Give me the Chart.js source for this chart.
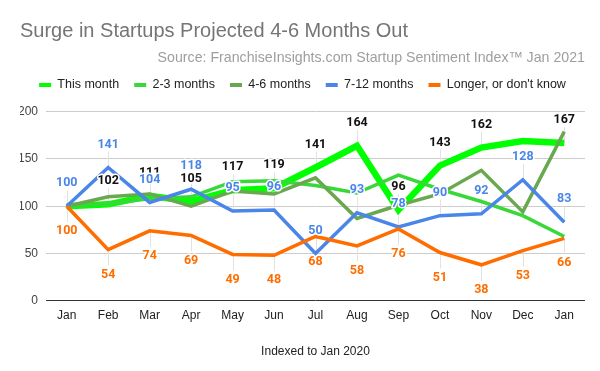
<!DOCTYPE html>
<html>
<head>
<meta charset="utf-8">
<script src="https://cdn.jsdelivr.net/npm/chart.js@4/dist/chart.umd.min.js"></script>
<style>
  html, body { margin: 0; padding: 0; background: #fff; }
  #wrap { width: 600px; height: 371px; }
</style>
</head>
<body>
<div id="wrap"><canvas id="chart"></canvas></div>
<script>
// months Jan 2020 .. Jan 2021
var months = ['Jan', 'Feb', 'Mar', 'Apr', 'May', 'Jun', 'Jul', 'Aug', 'Sep', 'Oct', 'Nov', 'Dec', 'Jan'];

var thisMonth   = [100, 102, 111, 105, 117, 119, 141, 164, 96, 143, 162, 169, 167];
var twoThree    = [100, 103, 108, 110, 126, 127, 122, 114, 133, 118, 105, 90, 68];
var fourSix     = [100, 110, 113, 100, 116, 113, 130, 87, 101, 113, 138, 94, 179];
var sevenTwelve = [100, 141, 104, 118, 95, 96, 50, 93, 78, 90, 92, 128, 83];
var longer      = [100, 54, 74, 69, 49, 48, 68, 58, 76, 51, 38, 53, 66];

var yTicks = [0, 50, 100, 150, 200];

var LEGEND_H = 48;

function series(label, data, color, width, order) {
    return {
        label: label,
        data: data,
        borderColor: color,
        backgroundColor: color,
        borderWidth: width,
        pointRadius: 0,
        pointHoverRadius: 0,
        tension: 0,
        fill: false,
        clip: false,
        order: order
    };
}

// which series get value labels, and where
var labelCfg = [
    { ds: 0, color: '#111111', side: -1, skip: [0, 11] },
    { ds: 3, color: '#4a86e8', side: -1, skip: [] },
    { ds: 4, color: '#ff6d01', side: 1, skip: [] }
];

var valueLabels = {
    id: 'valueLabels',
    beforeDatasetsDraw: function(chart) {
        // faint leader lines from point to label
        var ctx = chart.ctx;
        ctx.save();
        ctx.strokeStyle = '#e2e2e2';
        ctx.lineWidth = 1;
        labelCfg.forEach(function(c) {
            var meta = chart.getDatasetMeta(c.ds);
            meta.data.forEach(function(pt, i) {
                if (c.skip.indexOf(i) >= 0) return;
                var x = Math.round(pt.x) + 0.5;
                ctx.beginPath();
                ctx.moveTo(x, pt.y);
                ctx.lineTo(x, pt.y + c.side * 16);
                ctx.stroke();
            });
        });
        ctx.restore();
    },
    afterDatasetsDraw: function(chart) {
        var ctx = chart.ctx;
        ctx.save();
        ctx.font = 'bold 12.5px Roboto, "Liberation Sans", sans-serif';
        ctx.textAlign = 'center';
        ctx.textBaseline = 'middle';
        ctx.lineJoin = 'round';
        labelCfg.forEach(function(c) {
            var meta = chart.getDatasetMeta(c.ds);
            var data = chart.data.datasets[c.ds].data;
            meta.data.forEach(function(pt, i) {
                if (c.skip.indexOf(i) >= 0) return;
                var y = pt.y + (c.side < 0 ? -23 : 25);
                ctx.strokeStyle = '#ffffff';
                ctx.lineWidth = 3;
                ctx.strokeText(String(data[i]), pt.x, y);
                ctx.fillStyle = c.color;
                ctx.fillText(String(data[i]), pt.x, y);
            });
        });
        ctx.restore();
    }
};

var legendHeight = {
    id: 'legendHeight',
    afterInit: function(chart) {
        var lg = chart.legend;
        if (!lg) return;
        var fit = lg.fit;
        lg.fit = function() {
            fit.call(this);
            this.height = LEGEND_H;
        };
    }
};

new Chart(document.getElementById('chart'), {
    type: 'line',
    data: {
        labels: months,
        datasets: [
            series('This month', thisMonth, '#00ff00', 6.5, 5),
            series('2-3 months', twoThree, '#38d838', 3.5, 4),
            series('4-6 months', fourSix, '#6aa84f', 3.5, 3),
            series('7-12 months', sevenTwelve, '#4a86e8', 3.5, 2),
            series("Longer, or don't know", longer, '#ff6d01', 3.5, 1)
        ]
    },
    options: {
        responsive: true,
        maintainAspectRatio: false,
        animation: false,
        events: [],
        layout: { padding: { top: 0, left: 20, right: 15, bottom: 0 } },
        plugins: {
            title: {
                display: true,
                text: 'Surge in Startups Projected 4-6 Months Out',
                align: 'start',
                color: '#757575',
                font: { family: '"Liberation Sans", Arial, sans-serif', size: 20, weight: 'normal', lineHeight: 1.2 },
                padding: { top: 19.7, bottom: 0 }
            },
            subtitle: {
                display: true,
                text: 'Source: FranchiseInsights.com Startup Sentiment Index\u2122 Jan 2021',
                align: 'end',
                color: '#9e9e9e',
                font: { family: '"Liberation Sans", Arial, sans-serif', size: 14.2, lineHeight: 1.2 },
                padding: { top: 6.2, bottom: -3.2 }
            },
            legend: {
                display: true,
                position: 'top',
                align: 'center',
                labels: {
                    boxWidth: 12,
                    boxHeight: 4,
                    padding: 15,
                    color: '#222222',
                    font: { family: '"Liberation Sans", Arial, sans-serif', size: 12.5 },
                    generateLabels: function(chart) {
                        var items = Chart.defaults.plugins.legend.labels.generateLabels(chart);
                        items.forEach(function(it) { it.lineWidth = 0; });
                        return items;
                    },
                    sort: function(a, b) { return a.datasetIndex - b.datasetIndex; }
                }
            },
            tooltip: { enabled: false }
        },
        scales: {
            x: {
                offset: true,
                grid: { display: false, drawTicks: false },
                border: { display: false },
                ticks: {
                    color: '#222222',
                    padding: 8,
                    maxRotation: 0,
                    autoSkip: false,
                    font: { family: '"Liberation Sans", Arial, sans-serif', size: 12 }
                },
                title: {
                    display: true,
                    text: 'Indexed to Jan 2020',
                    color: '#222222',
                    font: { family: '"Liberation Sans", Arial, sans-serif', size: 12, lineHeight: 1.2 },
                    padding: { top: 0, bottom: 12.3 }
                },
                afterFit: function(scale) { scale.height = 70.3; }
            },
            y: {
                min: 0,
                max: 200,
                afterBuildTicks: function(scale) {
                    scale.ticks = yTicks.map(function(v) { return { value: v }; });
                },
                grid: {
                    drawTicks: false,
                    color: function(c) { return c.tick && c.tick.value === 0 ? '#333333' : '#cccccc'; },
                    lineWidth: 1
                },
                border: { display: false },
                ticks: {
                    color: '#444444',
                    padding: 8,
                    font: { family: '"Liberation Sans", Arial, sans-serif', size: 12 }
                },
                afterFit: function(scale) { scale.width = 26; }
            }
        }
    },
    plugins: [legendHeight, valueLabels]
});
</script>
</body>
</html>
